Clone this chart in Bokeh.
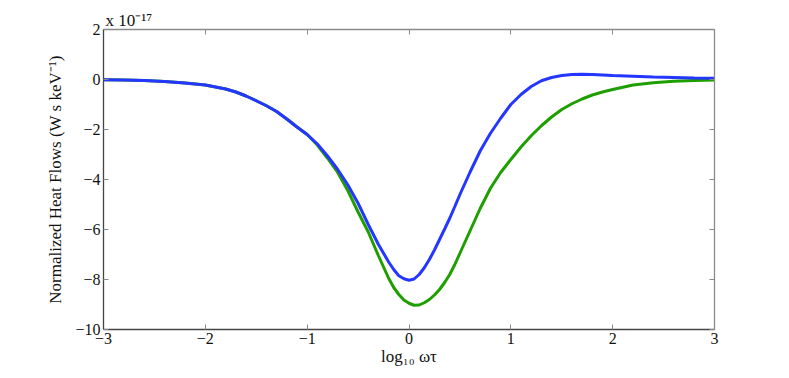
from bokeh.plotting import figure
from bokeh.models import LinearAxis, FixedTicker, Range1d
from bokeh.embed import file_html
from bokeh.resources import INLINE

# x values: log10(omega*tau)
log_wt = [-3.0, -2.8, -2.6, -2.4, -2.2, -2.0, -1.9, -1.8, -1.7, -1.6, -1.5, -1.4, -1.3,
          -1.2, -1.1, -1.0, -0.9, -0.8, -0.7, -0.6, -0.5, -0.4, -0.3, -0.2, -0.15, -0.1,
          -0.05, 0.0, 0.05, 0.1, 0.15, 0.2, 0.25, 0.3, 0.35, 0.4, 0.45, 0.5, 0.55, 0.6,
          0.7, 0.8, 0.9, 1.0, 1.1, 1.2, 1.3, 1.4, 1.5, 1.6, 1.7, 1.8, 1.9, 2.0, 2.2, 2.4,
          2.6, 2.8, 3.0]
# heat flows in units of 1e-17 W s keV^-1
heat_blue = [-0.01, -0.02, -0.04, -0.08, -0.14, -0.22, -0.3, -0.38, -0.5, -0.66, -0.85,
             -1.05, -1.28, -1.58, -1.9, -2.2, -2.58, -3.06, -3.6, -4.22, -4.95, -5.8,
             -6.6, -7.3, -7.6, -7.85, -7.97, -8.03, -7.98, -7.8, -7.53, -7.2, -6.82,
             -6.4, -5.98, -5.55, -5.08, -4.6, -4.15, -3.7, -2.85, -2.15, -1.55, -1.0,
             -0.6, -0.28, -0.05, 0.08, 0.16, 0.2, 0.21, 0.2, 0.18, 0.16, 0.13, 0.1, 0.08,
             0.06, 0.05]
heat_green = [-0.01, -0.02, -0.04, -0.08, -0.14, -0.22, -0.3, -0.38, -0.5, -0.66, -0.85,
              -1.05, -1.28, -1.58, -1.9, -2.2, -2.62, -3.15, -3.72, -4.45, -5.3, -6.1,
              -7.05, -7.95, -8.32, -8.6, -8.82, -8.95, -9.03, -9.02, -8.93, -8.8, -8.62,
              -8.4, -8.12, -7.8, -7.4, -6.95, -6.5, -6.05, -5.15, -4.35, -3.72, -3.2,
              -2.7, -2.25, -1.85, -1.5, -1.2, -0.97, -0.78, -0.62, -0.5, -0.4, -0.22,
              -0.13, -0.07, -0.04, -0.02]

x_ticks = [-3, -2, -1, 0, 1, 2, 3]
x_tick_labels = ["\u22123", "\u22122", "\u22121", "0", "1", "2", "3"]
y_ticks = [-10, -8, -6, -4, -2, 0, 2]
y_tick_labels = ["\u221210", "\u22128", "\u22126", "\u22124", "\u22122", "0", "2"]

FONT = "Liberation Serif"
AX_COL = "#444444"
TICK_COL = "#8a8a8a"

p = figure(width=781, height=370, output_backend="svg", toolbar_location=None,
           x_range=Range1d(-3, 3), y_range=Range1d(-10, 2),
           min_border_left=103, min_border_right=67, min_border_top=29, min_border_bottom=41)
p.outline_line_color = None
p.grid.visible = False
p.background_fill_color = "white"
p.border_fill_color = "white"

p.line(log_wt, heat_green, line_color="#1f9e00", line_width=3)
p.line(log_wt, heat_blue, line_color="#2436ff", line_width=3)

def style(ax, ticks, labels, show_labels):
    ax.ticker = FixedTicker(ticks=ticks)
    ax.major_label_overrides = {t: l for t, l in zip(ticks, labels)}
    ax.minor_tick_line_color = None
    ax.major_tick_in = 5
    ax.major_tick_out = 0
    ax.major_tick_line_color = TICK_COL
    ax.axis_line_color = AX_COL
    ax.axis_line_width = 1.3
    ax.major_label_text_font = FONT
    ax.major_label_text_font_size = "16px"
    ax.major_label_text_color = "#111111"
    if not show_labels:
        ax.major_label_text_font_size = "0px"
        ax.major_label_text_alpha = 0
        ax.major_label_standoff = 0

xa = p.xaxis[0]
style(xa, x_ticks, x_tick_labels, True)
xa.major_label_standoff = 3
xa.axis_label = "log\u2081\u2080 \u03c9\u03c4"
xa.axis_label_text_font = FONT
xa.axis_label_text_font_style = "normal"
xa.axis_label_text_font_size = "17px"
xa.axis_label_standoff = 0
xa.axis_label_text_color = "#111111"

ya = p.yaxis[0]
style(ya, y_ticks, y_tick_labels, True)
ya.major_label_standoff = 3
ya.axis_label = "Normalized Heat Flows (W s keV\u207b\u00b9)"
ya.axis_label_text_font = FONT
ya.axis_label_text_font_style = "normal"
ya.axis_label_text_font_size = "17px"
ya.axis_label_standoff = 7
ya.axis_label_text_color = "#111111"

right = LinearAxis()
style(right, y_ticks, y_tick_labels, False)
right.axis_line_color = TICK_COL
p.add_layout(right, "right")

# exponent written as the title, placed just above the frame's left corner
p.title.text = "x 10\u207b\u00b9\u2077"
p.title.align = "left"
p.title.text_font = FONT
p.title.text_font_style = "normal"
p.title.text_font_size = "17px"
p.title.text_color = "#111111"
p.title.standoff = 0
p.title.offset = 2

top = LinearAxis()
style(top, x_ticks, x_tick_labels, False)
top.axis_line_color = TICK_COL
p.add_layout(top, "above")

open("out.html", "w").write(file_html(p, INLINE))
